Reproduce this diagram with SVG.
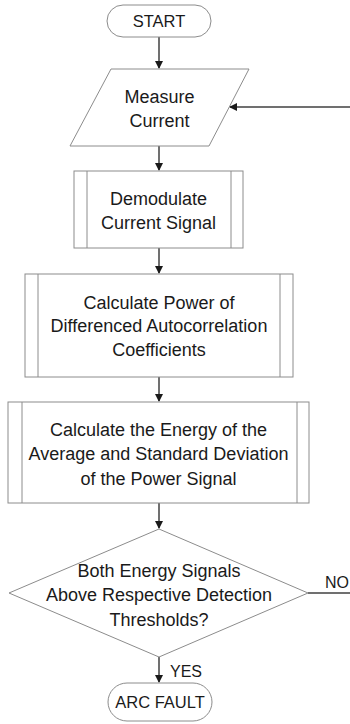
<svg xmlns="http://www.w3.org/2000/svg" width="350" height="724" viewBox="0 0 350 724">
<style>
.s{fill:#fff;stroke:#8c8c8c;stroke-width:1}
.i{fill:none;stroke:#8c8c8c;stroke-width:1}
.c{fill:none;stroke:#404040;stroke-width:1.5}
text{font-family:"Liberation Sans",Arial,sans-serif;font-size:18px;fill:#1a1a1a;text-anchor:middle}
.t{font-size:16.5px}
.l{font-size:16px}
</style>
<defs>
<marker id="ah" markerWidth="8" markerHeight="8" refX="7" refY="4" orient="auto" markerUnits="userSpaceOnUse">
<path d="M0,0 L8,4 L0,8 Z" fill="#1a1a1a"/>
</marker>
</defs>
<g id="connectors">
<line class="c" x1="159" y1="37" x2="159" y2="68" marker-end="url(#ah)"/>
<line class="c" x1="350" y1="107" x2="230" y2="107" marker-end="url(#ah)"/>
<line class="c" x1="159" y1="146" x2="159" y2="170" marker-end="url(#ah)"/>
<line class="c" x1="159" y1="248" x2="159" y2="273" marker-end="url(#ah)"/>
<line class="c" x1="159" y1="377" x2="159" y2="401" marker-end="url(#ah)"/>
<line class="c" x1="159" y1="503" x2="159" y2="528" marker-end="url(#ah)"/>
<line class="c" x1="308" y1="593" x2="350" y2="593"/>
<line class="c" x1="159" y1="657" x2="159" y2="682" marker-end="url(#ah)"/>
<text class="l" x="337" y="588">NO</text>
<text class="l" x="186" y="677">YES</text>
</g>
<g id="start">
<rect class="s" x="107" y="5" width="104" height="32" rx="16"/>
<text class="t" x="159" y="27">START</text>
</g>
<g id="measure">
<polygon class="s" points="111,69 249,69 209,146 70,146"/>
<text x="159.5" y="102.5">Measure</text>
<text x="159.5" y="126.5">Current</text>
</g>
<g id="demodulate">
<rect class="s" x="74" y="171" width="169" height="77"/>
<line class="i" x1="87" y1="171" x2="87" y2="248"/>
<line class="i" x1="231" y1="171" x2="231" y2="248"/>
<text x="158.5" y="204.5">Demodulate</text>
<text x="158.5" y="228.5">Current Signal</text>
</g>
<g id="power">
<rect class="s" x="25" y="274" width="268" height="103"/>
<line class="i" x1="38" y1="274" x2="38" y2="377"/>
<line class="i" x1="280" y1="274" x2="280" y2="377"/>
<text x="159" y="308.5">Calculate Power of</text>
<text x="159" y="331.5">Differenced Autocorrelation</text>
<text x="159" y="355.5">Coefficients</text>
</g>
<g id="energy">
<rect class="s" x="8" y="402" width="301" height="101"/>
<line class="i" x1="22" y1="402" x2="22" y2="503"/>
<line class="i" x1="297" y1="402" x2="297" y2="503"/>
<text x="158.5" y="435.5">Calculate the Energy of the</text>
<text x="158.5" y="459.5">Average and Standard Deviation</text>
<text x="158.5" y="484.5">of the Power Signal</text>
</g>
<g id="decision">
<polygon class="s" points="159,529 308,593 159,657 9,593"/>
<text x="159" y="576.5">Both Energy Signals</text>
<text x="159" y="600.5">Above Respective Detection</text>
<text x="159" y="625.5">Thresholds?</text>
</g>
<g id="arcfault">
<rect class="s" x="108" y="683" width="104" height="38" rx="19"/>
<text class="t" x="160" y="708">ARC FAULT</text>
</g>
</svg>
